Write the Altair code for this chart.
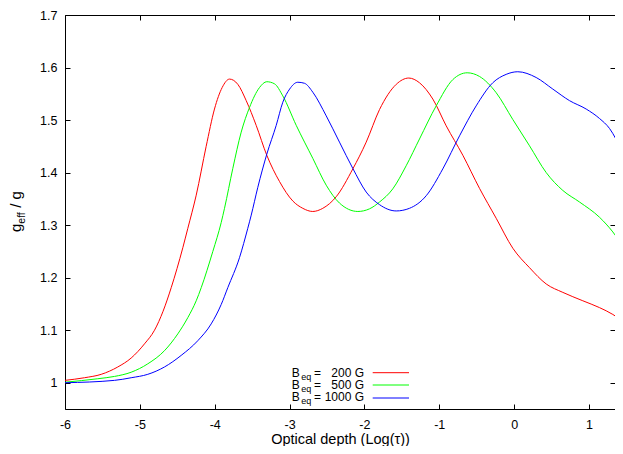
import altair as alt
import pandas as pd

# ---- data ----
red_x = [-6.0, -5.74, -5.516, -5.295, -5.116, -4.938, -4.804, -4.690, -4.581, -4.426, -4.359, -4.247,
         -4.114, -4.003, -3.900, -3.802, -3.691, -3.579, -3.446, -3.304, -3.134, -2.957, -2.823, -2.690, -2.556,
         -2.377, -2.155, -1.976, -1.798, -1.575, -1.407, -1.264, -1.086, -0.907, -0.685, -0.462, -0.239, -0.017,
         0.206, 0.429, 0.651, 0.918, 1.141, 1.319, 1.444]
red_y = [1.0045, 1.0095, 1.016, 1.030, 1.047, 1.074, 1.100, 1.136, 1.181, 1.257, 1.294, 1.357,
         1.450, 1.521, 1.562, 1.578, 1.568, 1.537, 1.490, 1.433, 1.383, 1.346, 1.332, 1.326, 1.332,
         1.354, 1.407, 1.458, 1.520, 1.568, 1.580, 1.571, 1.540, 1.489, 1.433, 1.370, 1.313, 1.256,
         1.219, 1.188, 1.172, 1.156, 1.143, 1.130, 1.118]

green_x = [-6.0, -5.562, -5.339, -5.116, -4.894, -4.671, -4.493, -4.359, -4.247, -4.180, -4.025, -3.913, -3.869,
           -3.758, -3.646, -3.535, -3.401, -3.304, -3.201, -3.090, -2.911, -2.689, -2.510, -2.333, -2.088, -1.932,
           -1.798, -1.621, -1.442, -1.264, -1.041, -0.819, -0.627, -0.462, -0.239, -0.017, 0.206, 0.429,
           0.651, 0.874, 1.141, 1.319, 1.444]
green_y = [1.001, 1.0076, 1.012, 1.020, 1.036, 1.061, 1.093, 1.124, 1.156, 1.181, 1.250, 1.305, 1.332,
           1.408, 1.477, 1.524, 1.562, 1.573, 1.569, 1.546, 1.490, 1.427, 1.376, 1.342, 1.326, 1.331,
           1.344, 1.369, 1.413, 1.464, 1.527, 1.577, 1.590, 1.583, 1.552, 1.501, 1.451, 1.400,
           1.366, 1.344, 1.315, 1.287, 1.262]

blue_x = [-6.0, -5.339, -5.116, -4.894, -4.671, -4.448, -4.226, -4.047, -3.913, -3.825, -3.669, -3.558, -3.512,
          -3.424, -3.304, -3.178, -3.090, -2.999, -2.890, -2.800, -2.689, -2.510, -2.333, -2.155, -1.976,
          -1.798, -1.575, -1.398, -1.174, -0.953, -0.729, -0.507, -0.285, -0.106, 0.049, 0.295, 0.517,
          0.740, 0.963, 1.141, 1.275, 1.444]
blue_y = [1.000, 1.0045, 1.0095, 1.016, 1.030, 1.052, 1.080, 1.112, 1.149, 1.181, 1.238, 1.294, 1.319,
          1.372, 1.435, 1.490, 1.534, 1.559, 1.572, 1.570, 1.553, 1.508, 1.458, 1.408, 1.363,
          1.339, 1.327, 1.332, 1.356, 1.407, 1.470, 1.527, 1.571, 1.587, 1.592, 1.581, 1.559,
          1.537, 1.521, 1.503, 1.484, 1.440]

series_names = ["200 G", "500 G", "1000 G"]
series_colors = ["#ff0000", "#00ff00", "#0000ff"]
x_ticks = [-6, -5, -4, -3, -2, -1, 0, 1]
y_ticks = [1.0, 1.1, 1.2, 1.3, 1.4, 1.5, 1.6, 1.7]
x_title = "Optical depth (Log(\u03c4))"

rows = []
for name, xs, ys in zip(series_names, [red_x, green_x, blue_x], [red_y, green_y, blue_y]):
    for a, b in zip(xs, ys):
        rows.append({"series": name, "x": a, "y": b})
df = pd.DataFrame(rows)

FONT = "Liberation Sans"
W, H = 550, 394
xs_ = alt.Scale(domain=[-6, 1.348], nice=False, zero=False)
ys_ = alt.Scale(domain=[0.95, 1.7], nice=False, zero=False)
color = alt.Color("series:N", scale=alt.Scale(domain=series_names, range=series_colors), legend=None)
minus_fix = "replace(datum.label, '\u2212', '-')"

# main lines + labelled axes
ax_main = alt.Axis(values=x_ticks, orient="bottom", domain=True, domainColor="black", domainWidth=1,
                   ticks=False, tickSize=0, grid=False, labelFont=FONT, labelFontSize=12.5, labelColor="black",
                   labelPadding=19, labelBaseline="alphabetic", labelFlush=False, labelExpr=minus_fix,
                   title=x_title, titleFont=FONT, titleFontSize=14.5, titleFontWeight="normal",
                   titleColor="black", titleBaseline="alphabetic", titleY=34)
ay_main = alt.Axis(values=y_ticks, orient="left", domain=True, domainColor="black", domainWidth=1,
                   ticks=False, tickSize=0, grid=False, labelFont=FONT, labelFontSize=12.5, labelColor="black",
                   labelPadding=8, labelBaseline="middle", labelFlush=False, format=".1~f", title=None)
lines = alt.Chart(df).mark_line(strokeWidth=1, clip=True, interpolate="monotone").encode(
    x=alt.X("x:Q", scale=xs_, axis=ax_main),
    y=alt.Y("y:Q", scale=ys_, axis=ay_main),
    color=color,
    detail="series:N",
)

def tick_axis(orient, values, size, off):
    return alt.Axis(values=values, orient=orient, domain=False, labels=False, ticks=True, tickSize=size,
                    tickColor="black", tickWidth=1, grid=False, offset=off, title=None)

def dummy(ax, ay):
    return alt.Chart(df).mark_point(opacity=0, size=1, clip=True).encode(
        x=alt.X("x:Q", scale=xs_, axis=ax), y=alt.Y("y:Q", scale=ys_, axis=ay))

t1 = dummy(tick_axis("bottom", x_ticks, 5, -5), tick_axis("left", y_ticks, 5, -5))
top_dom = alt.Axis(values=x_ticks, orient="top", domain=True, domainColor="black", domainWidth=1,
                   ticks=False, labels=False, grid=False, title=None)
t2 = dummy(top_dom, tick_axis("right", y_ticks, 5, -5))
t3 = dummy(tick_axis("top", x_ticks, 5, -5), None)

one = pd.DataFrame({"a": [0]})

def txt(s, x, y, size, angle=0, align="left"):
    return alt.Chart(one).mark_text(text=s, font=FONT, fontSize=size, color="black", align=align,
                                    baseline="alphabetic", angle=angle).encode(
        x=alt.value(x), y=alt.value(y))

# y title  g_eff / g  (rotated)
ytitle = [
    txt("g", -44.0, 217, 15, 270),
    txt("eff", -40.5, 208.7, 10.5, 270),
    txt("/ g", -44.0, 192.8, 15, 270),
]

# legend
leg_base = [361.5, 373.5, 385.7]
leg_line = [357.7, 370.0, 383.0]
legend = []
for name, col, yb, yl in zip(series_names, series_colors, leg_base, leg_line):
    legend.append(txt("B", 226.7, yb, 12))
    legend.append(txt("eq", 236.3, yb + 3, 9))
    legend.append(txt("=", 249.0, yb, 12))
    legend.append(txt(name, 299.0, yb, 12, align="right"))
    legend.append(alt.Chart(one).mark_rule(color=col, strokeWidth=1).encode(
        x=alt.value(307.7), x2=alt.value(344.0), y=alt.value(yl)))

chart = alt.layer(lines, t1, t2, t3, *ytitle, *legend).resolve_axis(
    x="independent", y="independent"
).properties(
    width=W, height=H,
    autosize=alt.AutoSizeParams(type="none"),
    padding={"left": 57, "top": 7, "right": 0, "bottom": 37},
    background="white",
).configure_view(stroke=None)

chart.save("out.html", embed_options={"renderer": "svg", "actions": False})
